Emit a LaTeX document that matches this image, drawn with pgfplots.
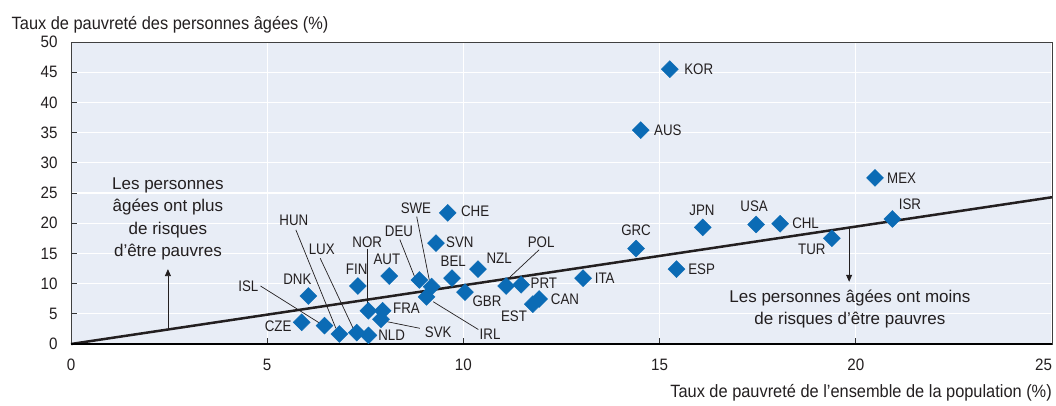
\documentclass[border=0pt]{standalone}
\usepackage{fontspec}
\setmainfont{Liberation Sans}
\newfontfamily\ttl{Liberation Sans}[FakeStretch=0.92]
\newfontfamily\lab{Liberation Sans}[FakeStretch=0.87]
\usepackage{pgfplots}
\pgfplotsset{compat=1.18}
\usetikzlibrary{arrows.meta}
\definecolor{bgc}{HTML}{E8EDF6}
\definecolor{oecdblue}{HTML}{0B6BB5}
\definecolor{txt}{HTML}{231F20}
\newcommand{\fs}{\lab\fontsize{15.3}{17}\selectfont}
\newcommand{\ft}{\ttl\fontsize{16.5}{19}\selectfont}
\newcommand{\fh}{\ttl\fontsize{17.8}{20}\selectfont}
\newcommand{\fa}{\fontsize{17}{22.5}\selectfont}
\pgfplotstableread{
x y
15.26 45.5
14.52 35.4
20.49 27.5
20.93 20.7
19.39 17.5
18.07 19.9
17.46 19.8
16.10 19.3
14.40 15.8
15.43 12.4
13.05 10.9
9.60 21.7
9.30 16.7
10.37 12.4
9.71 10.9
10.04 8.6
11.09 9.6
11.47 9.8
11.93 7.45
11.77 6.6
9.19 9.5
9.06 7.8
8.88 10.6
8.11 11.26
7.58 5.5
7.94 5.5
7.90 4.1
7.58 1.43
7.28 1.88
6.84 1.66
6.46 3.03
5.88 3.6
6.05 7.95
7.31 9.6
}\pts
\begin{document}
\begin{tikzpicture}
\useasboundingbox (-71pt,-61pt) rectangle (985pt,344pt);
\begin{axis}[
  at={(0,0)}, anchor=south west,
  width=981pt, height=302pt, scale only axis,
  xmin=0, xmax=25, ymin=0, ymax=50,
  xtick={0,5,...,25}, ytick={0,5,...,50},
  xticklabels={0,5,10,15,20,\llap{25}},
  axis background/.style={fill=bgc},
  grid=major, major grid style={white, line width=1.2pt},
  axis line style={draw=black!75, line width=0.8pt},
  tick align=inside, xtick pos=lower, ytick pos=left,
  tick style={black!80, line width=0.8pt},
  major tick length=6pt,
  ticklabel style={font=\ft, text=txt},
  /pgf/number format/assume math mode=true,
  yticklabel style={xshift=-10pt},
  xticklabel style={yshift=-11.5pt},
  clip=false,
]
\addplot[txt, line width=2.5pt] coordinates {(0,0) (25,24.3)};
\addplot[only marks, mark=square*, mark size=6pt,
  mark options={rotate=45, fill=oecdblue, draw=oecdblue}] table {\pts};
\draw[black, line width=1.6pt] (axis cs:0,0) -- (axis cs:25,0);
% leader lines
\begin{scope}[txt, line width=0.7pt]
\draw (axis cs:11.93,15.6) -- (axis cs:11.14,10.8);
\draw (axis cs:8.81,21.1) -- (axis cs:9.13,10.6);
\draw (axis cs:9.23,7.0) -- (axis cs:10.38,2.4);
\draw (axis cs:8.38,17.3) -- (axis cs:8.77,10.9);
\draw (axis cs:7.54,15.8) -- (axis cs:7.54,6.2);
\draw (axis cs:8.05,3.7) -- (axis cs:8.89,2.6);
\draw (axis cs:6.35,14.2) -- (axis cs:7.19,2.6);
\draw (axis cs:5.73,18.9) -- (axis cs:6.75,2.6);
\draw (axis cs:4.83,9.6) -- (axis cs:6.35,3.4);
\end{scope}
% labels
\begin{scope}[every node/.style={font=\fs, text=txt, inner sep=1pt}]
\node[anchor=west] at (axis cs:15.60,45.5) {KOR};
\node[anchor=west] at (axis cs:14.83,35.4) {AUS};
\node[anchor=west] at (axis cs:20.77,27.5) {MEX};
\node at (axis cs:21.38,23.2) {ISR};
\node at (axis cs:18.88,15.6) {TUR};
\node[anchor=west] at (axis cs:18.35,20.0) {CHL};
\node at (axis cs:17.41,22.8) {USA};
\node at (axis cs:16.08,22.2) {JPN};
\node at (axis cs:14.40,18.9) {GRC};
\node[anchor=west] at (axis cs:15.70,12.4) {ESP};
\node at (axis cs:13.6,10.9) {ITA};
\node[anchor=west] at (axis cs:9.91,21.9) {CHE};
\node at (axis cs:9.91,16.8) {SVN};
\node at (axis cs:10.91,14.2) {NZL};
\node at (axis cs:9.74,13.7) {BEL};
\node at (axis cs:10.6,7.1) {GBR};
\node at (axis cs:11.98,16.9) {POL};
\node at (axis cs:12.05,10.1) {PRT};
\node at (axis cs:12.59,7.45) {CAN};
\node at (axis cs:11.29,4.6) {EST};
\node at (axis cs:8.79,22.5) {SWE};
\node at (axis cs:10.68,1.66) {IRL};
\node at (axis cs:8.36,18.6) {DEU};
\node at (axis cs:8.05,14.1) {AUT};
\node at (axis cs:7.55,16.9) {NOR};
\node at (axis cs:8.55,5.9) {FRA};
\node at (axis cs:9.36,2.0) {SVK};
\node at (axis cs:8.17,1.43) {NLD};
\node at (axis cs:6.39,15.6) {LUX};
\node at (axis cs:5.68,20.5) {HUN};
\node at (axis cs:4.52,9.6) {ISL};
\node at (axis cs:5.28,2.9) {CZE};
\node at (axis cs:5.77,10.7) {DNK};
\node at (axis cs:7.28,12.4) {FIN};
\node[align=center, font=\fa] at (axis cs:2.47,20.7) {Les personnes\\âgées ont plus\\de risques\\d’être pauvres};
\node[align=center, font=\fa] at (axis cs:19.85,5.8) {Les personnes âgées ont moins\\de risques d’être pauvres};
\end{scope}
\draw[txt, line width=0.8pt, -{Triangle[width=6pt,length=7pt]}] (axis cs:2.47,2.6) -- (axis cs:2.47,12.4);
\draw[txt, line width=0.8pt, -{Triangle[width=6pt,length=7pt]}] (axis cs:19.83,19.2) -- (axis cs:19.83,10.3);
\end{axis}
\node[anchor=base west, font=\fh, text=txt, inner sep=0pt] at (-59.5pt,314.7pt) {Taux de pauvreté des personnes âgées (\%)};
\node[anchor=base east, font=\fh, text=txt, inner sep=0pt] at (981pt,-53.3pt) {Taux de pauvreté de l’ensemble de la population (\%)};
\end{tikzpicture}
\end{document}
